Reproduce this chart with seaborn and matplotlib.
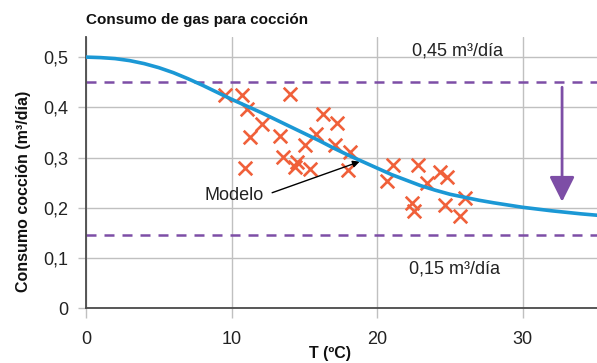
import numpy as np
import pandas as pd
import matplotlib
matplotlib.use("Agg")
import matplotlib.pyplot as plt
import seaborn as sns

# measured points (temperature, daily consumption)
temp = [9.55, 10.69, 14.01, 11.04, 12.07, 11.26, 13.32, 15.04, 13.55, 14.47,
        14.35, 10.92, 16.30, 17.22, 15.80, 17.10, 18.13, 15.38, 18.02, 21.10,
        22.82, 20.65, 24.30, 24.77, 23.40, 22.39, 22.50, 24.66, 26.03, 25.69]
consumo = [0.425, 0.425, 0.427, 0.396, 0.366, 0.340, 0.342, 0.325, 0.301, 0.292,
           0.282, 0.279, 0.387, 0.369, 0.347, 0.325, 0.312, 0.277, 0.275, 0.285,
           0.285, 0.254, 0.272, 0.262, 0.250, 0.209, 0.194, 0.206, 0.219, 0.184]

# model curve
model_t = [0, 1, 2, 3, 4, 5, 6, 7, 8, 9, 10, 11, 12, 13, 14, 15, 16, 17, 18,
           19, 20, 21, 22, 23, 24, 25, 26, 27, 28, 30, 32, 34, 35.2]
model_c = [0.500, 0.499, 0.497, 0.493, 0.487, 0.479, 0.469, 0.457, 0.444, 0.430,
           0.416, 0.403, 0.390, 0.376, 0.362, 0.348, 0.334, 0.319, 0.305,
           0.292, 0.279, 0.266, 0.255, 0.244, 0.235, 0.227, 0.221, 0.215, 0.210,
           0.201, 0.194, 0.188, 0.185]

limite_alto = 0.45
limite_bajo = 0.145

xticks = [0, 10, 20, 30]
yticks = [0, 0.1, 0.2, 0.3, 0.4, 0.5]
yticklabels = ["0", "0,1", "0,2", "0,3", "0,4", "0,5"]

sns.set_style("white")
plt.rcParams["font.family"] = ["Liberation Sans", "DejaVu Sans"]

puntos = pd.DataFrame({"T": temp, "consumo": consumo})
modelo = pd.DataFrame({"T": model_t, "consumo": model_c})

fig = plt.figure(figsize=(5.97, 3.63), dpi=100)
ax = fig.add_axes([86 / 597, 1 - 308.3 / 363, 1 - 86 / 597, (308.3 - 37) / 363])

purple = "#7d4ea6"
for lvl in [limite_alto, limite_bajo]:
    ax.axhline(lvl, xmin=0, xmax=1, color=purple, lw=1.8, dashes=(4, 3.2), zorder=2)

sns.scatterplot(data=puntos, x="T", y="consumo", marker="x", s=95,
                color="#f0603a", linewidth=1.9, ax=ax, zorder=3)
sns.lineplot(data=modelo, x="T", y="consumo", color="#1b98d5", lw=2.6,
             ax=ax, zorder=4)

ax.set_xlim(0, 35.1)
ax.set_ylim(0, 0.54)
ax.set_xticks(xticks)
ax.set_yticks(yticks)
ax.set_yticklabels(yticklabels)
ax.grid(True, color="#c0c0c0", lw=1.0)
ax.set_axisbelow(True)
for s in ["top", "right"]:
    ax.spines[s].set_visible(False)
for s in ["left", "bottom"]:
    ax.spines[s].set_color("#4a4a4a")
    ax.spines[s].set_linewidth(1.3)
ax.tick_params(axis="x", length=7, color="#c0c0c0", width=1.0, labelsize=13,
               labelcolor="#222222", pad=9, direction="out", bottom=True)
ax.tick_params(axis="y", length=6, color="#c0c0c0", width=1.0, labelsize=13,
               labelcolor="#222222", pad=7, direction="out", left=True)

ax.set_xlabel("T (ºC)", fontsize=11.5, fontweight="bold", color="#111111")
ax.xaxis.set_label_coords(0.477, -0.14)
ax.set_ylabel("Consumo cocción (m³/día)", fontsize=11.5, fontweight="bold",
              color="#111111")
ax.yaxis.set_label_coords(-0.108, 0.43)

ax.text(22.4, 0.512, "0,45 m³/día", fontsize=13, color="#222222",
        ha="left", va="center")
ax.text(22.2, 0.078, "0,15 m³/día", fontsize=13, color="#222222",
        ha="left", va="center")

ax.annotate("Modelo", xy=(18.8, 0.292), xytext=(12.2, 0.224),
            fontsize=13, color="#222222", ha="right", va="center",
            arrowprops=dict(arrowstyle="-|>", color="black", lw=1.0,
                            relpos=(1.0, 0.5), shrinkA=4, shrinkB=0,
                            mutation_scale=10))

ax.annotate("", xy=(32.7, 0.212), xytext=(32.7, 0.44),
            arrowprops=dict(arrowstyle="-|>,head_length=1.1,head_width=0.55",
                            color=purple, lw=2.0, shrinkA=0, shrinkB=0,
                            mutation_scale=14))

fig.text(86 / 597, 1 - 20 / 363, "Consumo de gas para cocción",
         fontsize=11, fontweight="bold", ha="left", va="center",
         color="#111111")

fig.savefig("out.png", dpi=100)
